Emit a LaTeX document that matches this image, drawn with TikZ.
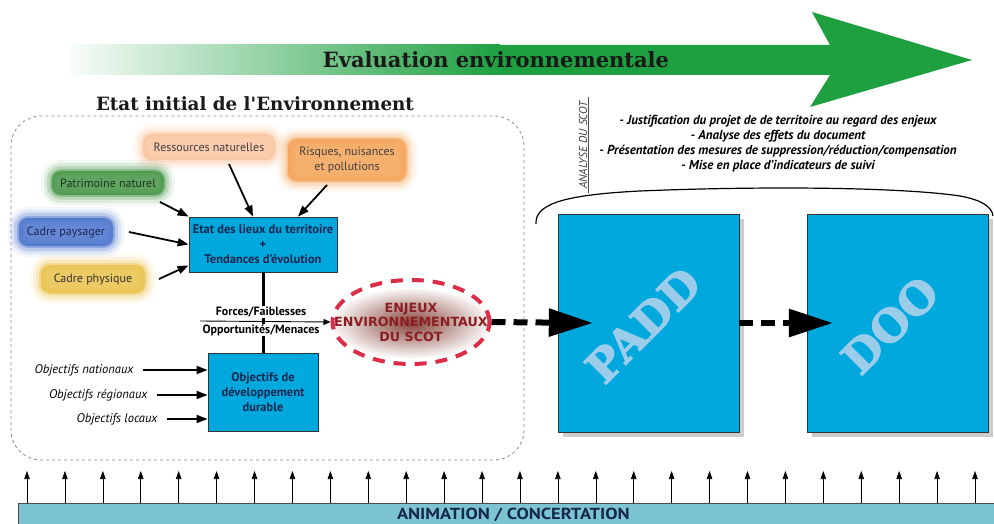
\documentclass[tikz,border=0pt]{standalone}
\usepackage{fontspec}
\setmainfont{PT Sans}
\newfontfamily\slabfont{DejaVu Serif}
\newfontfamily\heavyslab[FakeBold=2.5]{DejaVu Serif}
\newfontfamily\widefont{DejaVu Sans}
\newfontfamily\barfont[FakeStretch=1.15]{PT Sans}
\usepackage{tikz}
\usetikzlibrary{arrows.meta,shapes.geometric,shadows,positioning}

\definecolor{arrowgreen}{RGB}{30,160,65}
\definecolor{boxblue}{RGB}{0,168,222}
\definecolor{boxtext}{RGB}{20,40,80}
\definecolor{paddtext}{RGB}{155,205,235}
\definecolor{enjeuxred}{RGB}{220,45,70}
\definecolor{enjeuxtext}{RGB}{140,30,35}
\definecolor{glowbrown}{RGB}{135,70,60}
\definecolor{barteal}{RGB}{125,196,210}
\definecolor{peach}{RGB}{250,196,160}
\definecolor{riskorange}{RGB}{244,162,85}
\definecolor{patgreen}{RGB}{72,150,72}
\definecolor{paysblue}{RGB}{75,115,205}
\definecolor{physgold}{RGB}{233,193,75}

\begin{document}
\begin{tikzpicture}[x=1pt, y=-1pt,
  bluebox/.style={draw=black!80, line width=0.8pt, fill=boxblue, text=boxtext,
    font=\bfseries\fontsize{12.5}{15}\selectfont, align=center, inner sep=0pt},
  blob/.style={rounded corners=9pt, fill=#1, fill opacity=0.85, text opacity=1,
    draw=#1, draw opacity=0.4, line width=4pt,
    preaction={draw=#1, draw opacity=0.22, line width=10pt},
    preaction={draw=#1, draw opacity=0.13, line width=16pt},
    preaction={draw=#1, draw opacity=0.07, line width=22pt},
    font=\fontsize{12}{15}\selectfont, align=center, inner sep=0pt},
  inarrow/.style={-{Triangle[length=11pt, width=8pt]}, line width=1.8pt},
  objlabel/.style={anchor=east, font=\itshape\fontsize{12.5}{14}\selectfont},
  bigdash/.style={-{Triangle[length=44pt, width=27pt]}, line width=6pt, dash pattern=on 14pt off 8pt},
  uparrow/.style={-{Triangle[length=8pt, width=5.5pt]}, line width=0.6pt}]
  \useasboundingbox (0,0) rectangle (994,524);

  % Evaluation arrow
  \shade [left color=arrowgreen!3, right color=arrowgreen] (70,45) rectangle (500,75);
  \fill [arrowgreen] (499,45) -- (830,45) -- (812,12) -- (972,60) -- (810,107) -- (830,75) -- (499,75) -- cycle;
  \node [font=\slabfont\bfseries\fontsize{21}{24}\selectfont, text=black!90] (evaltitle) at (496,60) {Evaluation environnementale};

  % Etat initial frame
  \node [font=\slabfont\bfseries\fontsize{18.3}{21}\selectfont, text=black!90] (etattitle) at (255,104) {Etat initial de l'Environnement};
  \draw [dashed, black!45, line width=0.8pt, rounded corners=30pt] (11,116) rectangle (524,460);

  % Themes
  \node [blob=peach, text=black!75, minimum width=132pt, minimum height=26pt] (res) at (209,147) {Ressources naturelles};
  \node [blob=riskorange, text=black!75, minimum width=118pt, minimum height=42pt] (risk) at (347,160) {Risques, nuisances\\et pollutions};
  \node [blob=patgreen, text=black!65!patgreen, minimum width=112pt, minimum height=24pt] (pat) at (108,183) {Patrimoine naturel};
  \node [blob=paysblue, text=boxtext, minimum width=94pt, minimum height=28pt] (pays) at (66,232) {Cadre paysager};
  \node [blob=physgold, text=black!80, minimum width=104pt, minimum height=28pt] (phys) at (93,279) {Cadre physique};

  % Etat des lieux
  \node [bluebox, minimum width=148pt, minimum height=55pt] (etat) at (263,244.5) {Etat des lieux du territoire\\+\\Tendances d'évolution};
  \draw [inarrow] ([xshift=20pt, yshift=-2pt]res.south) -- ([xshift=-10pt]etat.north);
  \draw [inarrow] ([xshift=-20pt, yshift=-2pt]risk.south) -- ([xshift=35pt]etat.north);
  \draw [inarrow] ([xshift=-6pt, yshift=-5pt]pat.south east) -- (etat.north west);
  \draw [inarrow] ([xshift=14pt]pays.east) -- (etat.west);
  \draw [inarrow] ([xshift=12pt]phys.east) -- ([yshift=7pt]etat.south west);

  % Objectifs
  \node [bluebox, minimum width=110pt, minimum height=78pt] (obj) at (263,392) {Objectifs de\\développement\\durable};
  \node [objlabel] (nat) at (137,370) {Objectifs nationaux};
  \node [objlabel] (reg) at (151,395) {Objectifs régionaux};
  \node [objlabel] (loc) at (161,419) {Objectifs locaux};
  \draw [inarrow] ([xshift=6pt]nat.east) -- (nat.east -| obj.west);
  \draw [inarrow] ([xshift=6pt]reg.east) -- (reg.east -| obj.west);
  \draw [inarrow] ([xshift=6pt]loc.east) -- (loc.east -| obj.west);
  \draw [line width=3pt] (etat.south) -- (obj.north);

  % Enjeux
  \shade [inner color=glowbrown, outer color=white] (411,323) ellipse [x radius=82pt, y radius=36pt];
  \node [ellipse, draw=enjeuxred, line width=4pt, dash pattern=on 12pt off 9pt,
    minimum width=157pt, minimum height=84pt] (enjeux) at (411,322) {};
  \node [font=\widefont\bfseries\fontsize{12.7}{14.5}\selectfont, text=enjeuxtext, align=center] (enjeuxtxt) at (enjeux.center) {ENJEUX\\ENVIRONNEMENTAUX\\DU SCOT};
  \coordinate (ffstart) at (200,321);
  \draw [-{Triangle[length=7pt, width=6pt]}, line width=0.9pt] (ffstart) -- (enjeux.west);
  \node [font=\bfseries\fontsize{12}{14}\selectfont, fill=white, inner sep=0.5pt] (forces) at (261,312) {Forces/Faiblesses};
  \node [font=\bfseries\fontsize{12}{14}\selectfont, fill=white, inner sep=0.5pt] (opport) at (261,330) {Opportunités/Menaces};

  % Analyse du SCOT
  \node [rotate=90, font=\itshape\fontsize{11.5}{13}\selectfont, text=black!75, inner sep=1pt] (scotlbl) at (583,145) {ANALYSE DU SCOT};
  \draw [black!70, line width=0.6pt] ([yshift=-3pt]scotlbl.south west) -- ([yshift=3pt]scotlbl.south east);
  \node [font=\bfseries\itshape\fontsize{13}{15}\selectfont, align=center] (analyse) at (778,143.5) {- Justification du projet de de territoire au regard des enjeux\\- Analyse des effets du document\\- Présentation des mesures de suppression/réduction/compensation\\- Mise en place d'indicateurs de suivi};
  \draw [line width=1.2pt] (536,224) .. controls (535,205) and (560,195) .. (640,191)
    .. controls (760,186) and (900,187) .. (960,196) .. controls (982,200) and (992,207) .. (993,216);

  % PADD and DOO
  \node [draw=black!80, fill=boxblue, minimum width=181pt, minimum height=218pt,
    drop shadow={shadow xshift=5pt, shadow yshift=-5pt, opacity=0.4}] (padd) at (648.5,323) {};
  \node [rotate=45, font=\heavyslab\bfseries\fontsize{44}{50}\selectfont, text=paddtext] (paddlbl) at (643,325) {PADD};
  \node [draw=black!80, fill=boxblue, minimum width=181pt, minimum height=218pt,
    drop shadow={shadow xshift=5pt, shadow yshift=-5pt, opacity=0.4}] (doo) at (897.5,323) {};
  \node [rotate=45, font=\heavyslab\bfseries\fontsize{44}{50}\selectfont, text=paddtext] (doolbl) at (890,325) {DOO};
  \draw [bigdash] (enjeux.east) -- ([xshift=35pt]padd.west);
  \draw [bigdash] (padd.east) -- ([xshift=26pt]doo.west);

  % Animation / concertation
  \node [anchor=north west, fill=barteal, draw=black!70, line width=0.8pt, minimum width=990pt, minimum height=23pt,
    font=\barfont\bfseries\fontsize{16}{18}\selectfont, text=boxtext] (bar) at (18,503) {ANIMATION / CONCERTATION};
  \foreach \i in {0,...,25} {
    \coordinate (up\i) at (27+37.92*\i,471);
    \draw [uparrow] (up\i |- bar.north) -- (up\i);
  }
\end{tikzpicture}
\end{document}
